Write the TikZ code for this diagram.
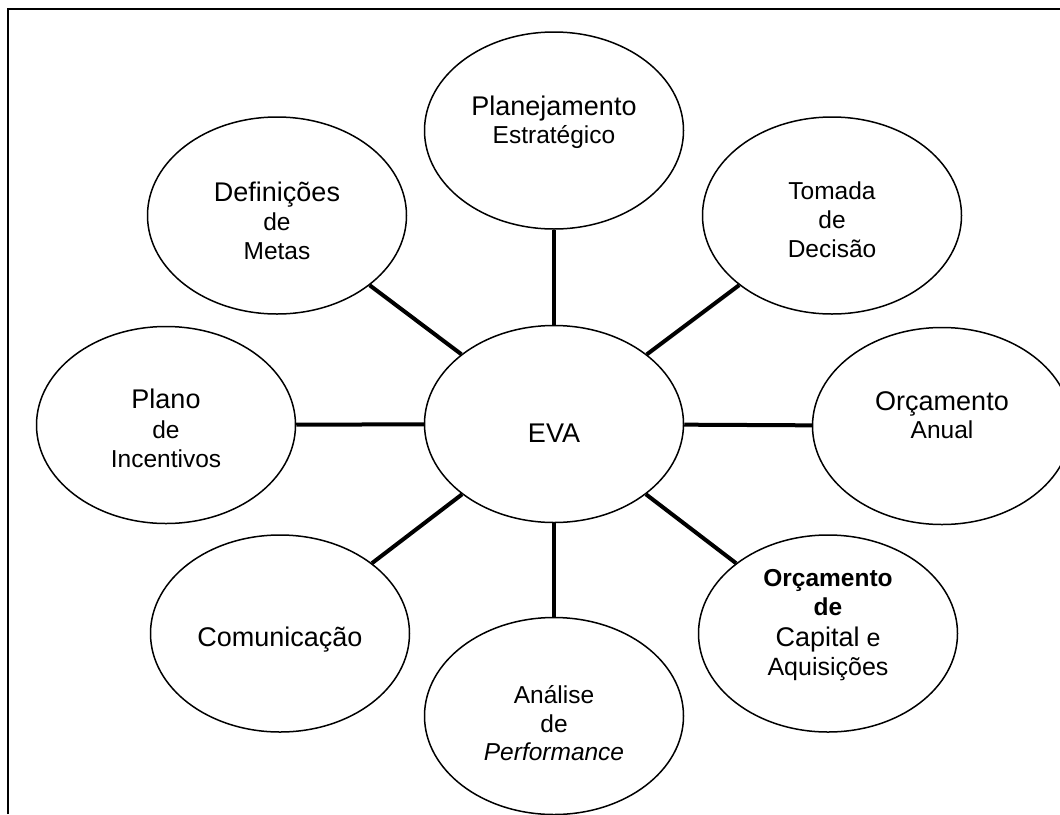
\documentclass[tikz,border=0pt]{standalone}
\usepackage{fontspec}
\setmainfont{Liberation Sans}
\usetikzlibrary{shapes.geometric}
\begin{document}
\begin{tikzpicture}[x=1pt,y=-1pt,
  bubble/.style={ellipse, draw, line width=1.5pt, minimum width=259pt, minimum height=197pt, inner sep=0pt},
  conn/.style={line width=4pt},
  big/.style={anchor=base, inner sep=0pt, font=\fontsize{27}{30}\selectfont},
  small/.style={anchor=base, inner sep=0pt, font=\fontsize{24.5}{28}\selectfont}]
\clip (0,0) rectangle (1060,814);
\fill[white] (0,0) rectangle (1060,814);
% frame
\coordinate (fbl) at (7.5,814);
\coordinate (ftl) at (7.5,9.3);
\coordinate (ftr) at (1060,9.3);
\draw[line width=2pt] (fbl) -- (ftl) -- (ftr);
% ellipses
\node[bubble] (eva)  at (554,424)   {};
\node[bubble] (plan) at (554,130.5) {};
\node[bubble] (tom)  at (832,215.5) {};
\node[bubble] (def)  at (277,215.5) {};
\node[bubble] (inc)  at (166,425)   {};
\node[bubble] (anu)  at (942,426)   {};
\node[bubble] (com)  at (280,633.5) {};
\node[bubble] (cap)  at (828,633.5) {};
\node[bubble] (ana)  at (554,716)   {};
% connectors
\draw[conn] (eva) -- (plan);
\draw[conn] (eva) -- (tom);
\draw[conn] (eva) -- (def);
\draw[conn] (eva) -- (inc);
\draw[conn] (eva) -- (anu);
\draw[conn] (eva) -- (com);
\draw[conn] (eva) -- (cap);
\draw[conn] (eva) -- (ana);
% texts
\node[big]   (t-eva)  at (554,442)   {EVA};
\node[big]   (t-pl1)  at (554,115)   {Planejamento};
\node[small] (t-pl2)  at (554,143.5) {Estratégico};
\node[small] (t-to1)  at (832,199)   {Tomada};
\node[small] (t-to2)  at (832,228)   {de};
\node[small] (t-to3)  at (832,257)   {Decisão};
\node[big]   (t-de1)  at (277,201)   {Definições};
\node[small] (t-de2)  at (277,230)   {de};
\node[small] (t-de3)  at (277,259)   {Metas};
\node[big]   (t-in1)  at (166,408)   {Plano};
\node[small] (t-in2)  at (166,438)   {de};
\node[small] (t-in3)  at (166,467)   {Incentivos};
\node[big]   (t-an1)  at (942,410)   {Orçamento};
\node[small] (t-an2)  at (942,438)   {Anual};
\node[big]   (t-co1)  at (280,646)   {Comunicação};
\node[small] (t-pe1)  at (554,703)   {Análise};
\node[small] (t-pe2)  at (554,732)   {de};
\node[small] (t-pe3)  at (554,760)   {\itshape Performance};
\node[small] (t-ca1)  at (828,586)   {\bfseries Orçamento};
\node[small] (t-ca2)  at (828,615)   {\bfseries de};
\node[big]   (t-ca3)  at (828,646.5) {Capital{\fontsize{25}{28}\selectfont{} e}};
\node[small] (t-ca4)  at (828,675)   {\fontsize{25}{28}\selectfont Aquisições};
\end{tikzpicture}
\end{document}
